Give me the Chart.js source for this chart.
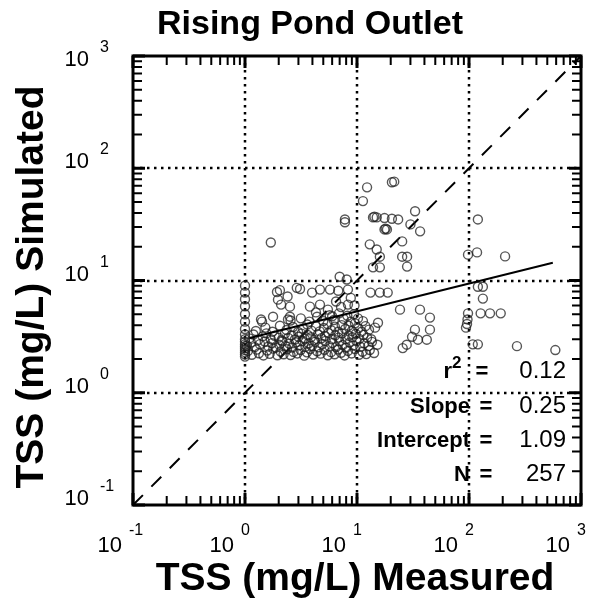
<!DOCTYPE html>
<html>
<head>
<meta charset="utf-8">
<title>Rising Pond Outlet</title>
<script src="https://cdn.jsdelivr.net/npm/chart.js@4.4.1/dist/chart.umd.min.js"></script>
<style>
    html, body { margin: 0; padding: 0; background: #fff; }
    #wrap { width: 599px; height: 606px; }
</style>
</head>
<body>
<div id="wrap"><canvas id="tssChart" width="599" height="606"></canvas></div>
<script>
// Axis decades (both axes share the same log range)
const decades = [0.1, 1, 10, 100, 1000];
const exponents = ['-1', '0', '1', '2', '3'];
const gridValues = [1, 10, 100];
const minorSteps = [2, 3, 4, 5, 6, 7, 8, 9];

// TSS measured (x) vs simulated (y), mg/L
const measured = [
    // column at 1 mg/L
    1, 1, 1, 1, 1, 1, 1, 1, 1, 1, 1, 1, 1, 1, 1, 1, 1,
    // main cluster, lowest band
    1.06, 1.15, 1.27, 1.33, 1.46, 1.58, 1.66, 1.79, 1.95, 2.08, 2.21, 2.37, 2.55, 2.71, 2.93, 3.14, 3.38, 3.57, 3.82,
    4.07, 4.41, 4.73, 5.12, 5.49, 5.87, 6.31, 6.77, 7.2, 7.74, 8.3, 8.95, 9.6, 10.4, 11.2, 12.1, 13.0, 14.2,
    1.04, 1.13, 1.22, 1.36, 1.5, 1.62, 1.74, 1.88, 2.02, 2.16, 2.3, 2.48, 2.64, 2.86, 3.05, 3.26, 3.47, 3.7, 3.95,
    4.22, 4.55, 4.9, 5.25, 5.66, 6.05, 6.5, 6.95, 7.45, 8.0, 8.6, 9.25, 9.9, 10.7, 11.6, 12.6, 13.6, 15.2,
    1.09, 1.19, 1.31, 1.44, 1.55, 1.7, 1.84, 2.0, 2.12, 2.27, 2.43, 2.6, 2.79, 3.0, 3.2, 3.42, 3.63, 3.88,
    4.15, 4.48, 4.8, 5.18, 5.55, 5.95, 6.4, 6.85, 7.35, 7.9, 8.45, 9.1, 9.75, 10.5, 11.4, 12.3, 13.4,
    1.25, 1.52, 1.76, 2.05, 2.35, 2.68, 2.98, 3.3, 3.6, 3.92, 4.3, 4.65, 5.05, 5.45,
    5.9, 6.35, 6.8, 7.3, 7.85, 8.4, 9.0, 9.6, 10.3, 11.0, 11.9, 12.8, 14.5,
    2.55, 3.15, 3.75, 4.4, 5.0, 5.7, 6.2, 6.9, 7.6, 8.2, 8.8, 9.4, 10.2, 11.3,
    // upper scatter 1-10 mg/L
    1.93, 2.9, 3.97, 5.74, 2.05, 3.1, 4.67, 6.8, 8.3, 1.97, 2.4, 2.52, 2.52, 1.42,
    1.78, 3.8, 2.1, 4.67, 8.3, 4.3, 1.39, 2.42, 6.5, 7.2, 8.8, 9.5, 5.5, 6.0,
    13.2, 16, 18.8,
    // 15-50 mg/L
    24.2, 36.5, 44.8, 32.9, 44.8, 31, 35, 42, 27.8, 25.6, 15.4,
    // above 90 mg/L
    120, 133, 133, 127, 154, 192, 98, 97, 96, 94, 108, 120, 268, 590,
    // high simulated values
    1.7, 20.5, 21.5, 12.3, 11.3, 7.8, 7.8, 13.9, 14.3, 15.0, 17.6, 20.5, 23.3,
    17.6, 18.5, 18, 33, 30, 36.6, 25.3, 13, 15, 16, 25.3, 28, 28, 13.9, 16,
    98, 118, 120, 7, 8.1, 210
];

const simulated = [
    9.0, 7.8, 6.8, 5.9, 5.0, 4.3, 3.7, 3.3, 3.0, 2.85, 2.7, 2.6, 2.5, 2.4, 2.3, 2.2, 2.1,
    2.35, 2.18, 2.42, 2.25, 2.15, 2.38, 2.22, 2.47, 2.16, 2.33, 2.2, 2.44, 2.17, 2.31, 2.24, 2.4, 2.14, 2.29, 2.45,
    2.19, 2.34, 2.23, 2.41, 2.16, 2.3, 2.2, 2.43, 2.27, 2.15, 2.36, 2.24, 2.45, 2.18, 2.32, 2.21, 2.4, 2.26,
    2.62, 2.8, 2.55, 2.71, 2.86, 2.58, 2.77, 2.52, 2.68, 2.88, 2.6, 2.74, 2.53, 2.82, 2.65, 2.9, 2.57, 2.76, 2.6,
    2.85, 2.54, 2.72, 2.9, 2.6, 2.78, 2.55, 2.87, 2.66, 2.52, 2.8, 2.63, 2.88, 2.57, 2.75, 2.6, 2.84, 2.68,
    3.05, 3.3, 2.95, 3.18, 3.38, 3.0, 3.22, 3.1, 2.94, 3.35, 3.08, 3.24, 2.98, 3.15, 3.36, 3.02, 3.27, 3.12,
    2.96, 3.32, 3.06, 3.2, 3.4, 3.0, 3.25, 3.1, 3.38, 3.0, 3.22, 3.12, 3.35, 3.02, 3.28, 3.1, 3.0,
    3.55, 3.8, 3.5, 3.95, 3.62, 3.85, 3.48, 3.72, 4.05, 3.58, 3.9, 3.52, 3.78, 4.1,
    3.6, 3.88, 3.5, 4.0, 3.7, 3.95, 3.55, 4.15, 3.75, 3.5, 3.92, 3.65, 3.8,
    4.4, 4.6, 4.3, 4.75, 4.35, 4.9, 4.45, 5.1, 4.55, 4.85, 4.3, 5.0, 4.6, 4.35,
    7.9, 8.6, 7.8, 8.3, 8.2, 8.4, 8.3, 8.1, 8.3, 6.75, 7.2, 5.85, 4.76, 4.3,
    4.76, 5.85, 6.1, 6.1, 6.1, 5.2, 4.5, 4.5, 6.5, 5.8, 7.0, 6.0, 5.5, 4.8,
    7.8, 7.8, 7.8,
    5.5, 5.5, 4.67, 3.65, 3.65, 3.15, 2.97, 2.97, 2.68, 2.5, 4.2,
    8.8, 8.8, 6.9, 5.1, 5.1, 5.1, 5.1, 4.5, 4.1, 3.8, 2.7, 2.7, 2.6, 2.4,
    21.8, 75, 76, 67.6, 51, 35, 33, 36.5, 37, 36.5, 36, 35.5, 35,
    28.5, 28.5, 29, 41.4, 31.6, 27.4, 22.3, 21, 18.9, 16.3, 16.3, 16.3, 13.3, 13.1, 13.1,
    17, 17.8, 35, 10.8, 10.2, 16.4
];

// 1:1 reference line and regression fit end points
const oneToOneX = [0.1, 1000];
const oneToOneY = [0.1, 1000];
const fitX = [1.1, 560];
const fitY = [3.08, 14.4];

// Fit statistics printed in the lower right corner
const statLabels = ['Slope', 'Intercept', 'N'];
const statValues = ['0.25', '1.09', '257'];
const r2Value = '0.12';

const fontFamily = '"Liberation Sans", Arial, Helvetica, sans-serif';

const toPoints = (xs, ys) => xs.map((v, i) => ({ x: v, y: ys[i] }));

const framePlugin = {
    id: 'logFrame',
    beforeDatasetsDraw(chart) {
        const { ctx, chartArea: a, scales } = chart;
        ctx.save();
        ctx.strokeStyle = '#000';
        ctx.lineWidth = 2.5;
        ctx.setLineDash([2.5, 4.5]);
        gridValues.forEach(v => {
            const px = Math.round(scales.x.getPixelForValue(v));
            ctx.beginPath();
            ctx.moveTo(px, a.top);
            ctx.lineTo(px, a.bottom);
            ctx.stroke();
            const py = Math.round(scales.y.getPixelForValue(v));
            ctx.beginPath();
            ctx.moveTo(a.left, py);
            ctx.lineTo(a.right, py);
            ctx.stroke();
        });
        ctx.restore();
    },
    afterDatasetsDraw(chart) {
        const { ctx, chartArea: a, scales } = chart;
        ctx.save();
        ctx.strokeStyle = '#000';

        const drawTick = (v, len, lw) => {
            ctx.lineWidth = lw;
            const px = scales.x.getPixelForValue(v);
            const py = scales.y.getPixelForValue(v);
            ctx.beginPath();
            ctx.moveTo(px, a.bottom); ctx.lineTo(px, a.bottom - len);
            ctx.moveTo(px, a.top); ctx.lineTo(px, a.top + len);
            ctx.moveTo(a.left, py); ctx.lineTo(a.left + len, py);
            ctx.moveTo(a.right, py); ctx.lineTo(a.right - len, py);
            ctx.stroke();
        };
        decades.slice(0, -1).forEach(d => {
            minorSteps.forEach(k => drawTick(k * d, 9, 2));
        });
        decades.forEach(d => drawTick(d, 12, 3));

        // frame
        ctx.lineWidth = 3;
        ctx.strokeRect(a.left, a.top, a.right - a.left, a.bottom - a.top);
        ctx.restore();
    },
    afterDraw(chart) {
        const { ctx, chartArea: a, scales } = chart;
        ctx.save();
        ctx.fillStyle = '#000';

        // tick labels: "10" with raised exponent
        decades.forEach((d, i) => {
            const px = scales.x.getPixelForValue(d);
            ctx.font = '22px ' + fontFamily;
            ctx.textAlign = 'right';
            ctx.textBaseline = 'alphabetic';
            ctx.fillText('10', px - 11, 552);
            ctx.font = '16px ' + fontFamily;
            ctx.textAlign = 'left';
            ctx.fillText(exponents[i], px - 4, 535);

            const py = scales.y.getPixelForValue(d);
            const base = Math.max(py, a.top + 10);
            ctx.font = '22px ' + fontFamily;
            ctx.textAlign = 'right';
            ctx.fillText('10', 89, base);
            ctx.font = '16px ' + fontFamily;
            ctx.textAlign = 'left';
            ctx.fillText(exponents[i], 100, base - 14);
        });

        // title and axis titles
        ctx.textAlign = 'center';
        ctx.font = 'bold 34px ' + fontFamily;
        ctx.fillText('Rising Pond Outlet', 310, 34);
        ctx.font = 'bold 39px ' + fontFamily;
        ctx.fillText('TSS (mg/L) Measured', 355, 590);
        ctx.save();
        ctx.translate(43, 287);
        ctx.rotate(-Math.PI / 2);
        ctx.fillText('TSS (mg/L) Simulated', 0, 0);
        ctx.restore();

        // statistics block
        const labelRight = 470;
        const valueRight = 566;
        ctx.font = 'bold 22px ' + fontFamily;
        ctx.textAlign = 'right';
        ctx.fillText('r', 452, 378);
        ctx.font = 'bold 17px ' + fontFamily;
        ctx.textAlign = 'left';
        ctx.fillText('2', 452, 368);
        ctx.font = 'bold 22px ' + fontFamily;
        ctx.textAlign = 'center';
        ctx.fillText('=', 482, 378);
        ctx.font = '24px ' + fontFamily;
        ctx.textAlign = 'right';
        ctx.fillText(r2Value, valueRight, 378);

        const rowBase = [413, 447, 481];
        statLabels.forEach((label, i) => {
            ctx.font = 'bold 22px ' + fontFamily;
            ctx.textAlign = 'right';
            ctx.fillText(label, labelRight, rowBase[i]);
            ctx.textAlign = 'center';
            ctx.fillText('=', 486, rowBase[i]);
            ctx.font = '24px ' + fontFamily;
            ctx.textAlign = 'right';
            ctx.fillText(statValues[i], valueRight, rowBase[i]);
        });
        ctx.restore();
    }
};

const logAxis = {
    type: 'logarithmic',
    min: 0.1,
    max: 1000,
    display: false
};

new Chart(document.getElementById('tssChart'), {
    type: 'scatter',
    data: {
        datasets: [
            {
                type: 'line',
                data: toPoints(oneToOneX, oneToOneY),
                borderColor: '#000',
                borderWidth: 2,
                borderDash: [14, 12],
                pointRadius: 0,
                fill: false,
                order: 3
            },
            {
                data: toPoints(measured, simulated),
                pointRadius: 4.5,
                pointBorderWidth: 1.4,
                borderColor: 'rgba(30, 30, 30, 0.75)',
                backgroundColor: 'rgba(0, 0, 0, 0)',
                order: 2
            },
            {
                type: 'line',
                data: toPoints(fitX, fitY),
                borderColor: '#000',
                borderWidth: 2,
                pointRadius: 0,
                fill: false,
                order: 1
            }
        ]
    },
    options: {
        responsive: false,
        animation: false,
        layout: { padding: { left: 133, right: 18, top: 56, bottom: 101 } },
        plugins: {
            legend: { display: false },
            tooltip: { enabled: false }
        },
        scales: { x: logAxis, y: logAxis }
    },
    plugins: [framePlugin]
});
</script>
</body>
</html>
